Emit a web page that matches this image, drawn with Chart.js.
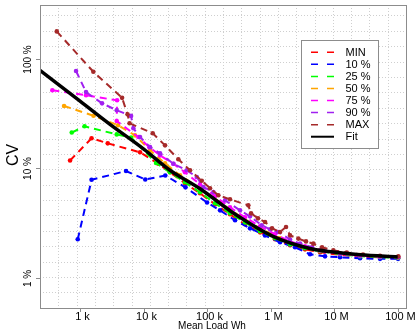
<!DOCTYPE html>
<html>
<head>
<meta charset="utf-8">
<style>
  html, body { margin: 0; padding: 0; background: #fff; }
  #wrap { width: 416px; height: 332px; }
</style>
<script src="https://cdn.jsdelivr.net/npm/chart.js@4.4.0/dist/chart.umd.min.js"></script>
</head>
<body>
<div id="wrap"><canvas id="cvChart" width="416" height="332"></canvas></div>
<script>
// CV vs carga media, ejes log-log

const minLoad = [696, 1518, 2730, 8810, 17100, 26100, 45000, 77600, 133700, 230000, 396000, 684000, 1.178e6, 2.03e6, 3.49e6, 6.02e6, 1.242e7, 2.57e7, 5.3e7, 1.02e8];
const minCv   = [11.8, 18.8, 16.9, 14.0, 11.0, 9.19, 7.30, 5.91, 4.69, 3.80, 3.08, 2.60, 2.25, 1.98, 1.82, 1.71, 1.62, 1.56, 1.52, 1.51];

const p10Load = [920, 1518, 5300, 10640, 22000, 45800, 100000, 160200, 276000, 475000, 819000, 1.412e6, 2.43e6, 4.19e6, 7.21e6, 1.242e7, 2.57e7, 5.3e7, 1.02e8];
const p10Cv   = [2.25, 7.85, 9.45, 7.90, 8.60, 6.70, 4.87, 4.13, 3.35, 2.83, 2.44, 2.11, 1.90, 1.64, 1.57, 1.54, 1.51, 1.49, 1.49];

const p25Load = [740, 1178, 3780, 6360, 15740, 26100, 45000, 77600, 133700, 230000, 396000, 684000, 1.178e6, 2.03e6, 3.49e6, 6.02e6, 1.242e7, 2.57e7, 5.3e7, 1.02e8];
const p25Cv   = [21.2, 24.2, 20.4, 19.1, 11.2, 9.19, 7.45, 6.04, 4.79, 3.88, 3.21, 2.66, 2.30, 2.02, 1.86, 1.75, 1.64, 1.57, 1.54, 1.52];

const p50Load = [560, 1632, 3970, 7350, 12660, 21800, 37600, 77600, 160200, 331000, 684000, 1.412e6, 2.92e6, 6.02e6, 1.242e7, 2.57e7, 5.3e7, 1.02e8];
const p50Cv   = [37.1, 30.2, 24.7, 20.0, 14.6, 11.1, 8.63, 6.57, 4.89, 3.64, 2.83, 2.30, 1.98, 1.78, 1.67, 1.61, 1.56, 1.54];

const p75Load = [366, 1243, 3830, 3780, 8280, 12340, 18200, 29500, 45000, 77600, 133700, 230000, 396000, 684000, 1.178e6, 2.03e6, 3.49e6, 6.02e6, 1.242e7, 2.57e7, 5.3e7, 1.02e8];
const p75Cv   = [51.6, 46.4, 41.8, 27.0, 19.3, 15.6, 13.1, 11.0, 9.19, 7.14, 5.55, 4.40, 3.57, 2.95, 2.50, 2.15, 1.94, 1.78, 1.66, 1.59, 1.56, 1.54];

const p90Load = [865, 1243, 2220, 3780, 6360, 6910, 8810, 12660, 18200, 29500, 47900, 68900, 87500, 125700, 192000, 331000, 475000, 727000, 982000, 1.312e6, 2.03e6, 2.92e6, 4.51e6, 7.21e6, 1.242e7, 2.57e7, 5.3e7, 1.02e8];
const p90Cv   = [77.4, 49.7, 39.2, 33.9, 30.1, 23.2, 19.3, 15.6, 13.7, 11.0, 9.59, 8.33, 6.75, 6.08, 5.10, 4.13, 3.64, 3.02, 2.77, 2.62, 2.24, 2.05, 1.90, 1.75, 1.66, 1.59, 1.56, 1.54];

const maxLoad = [430, 1620, 4590, 5600, 6020, 13960, 21800, 35300, 54000, 82600, 111500, 150600, 230000, 447000, 493000, 635000, 819000, 1.056e6, 1.412e6, 1.754e6, 2.03e6, 2.74e6, 3.62e6, 4.72e6, 6.47e6, 9.75e6, 1.585e7, 2.86e7, 5.3e7, 1.03e8];
const maxCv   = [178, 76.1, 44.0, 31.1, 25.8, 20.9, 16.2, 12.1, 9.59, 7.69, 6.57, 5.67, 5.21, 4.59, 3.88, 3.49, 3.23, 2.83, 2.62, 2.91, 2.44, 2.28, 2.15, 2.05, 1.90, 1.78, 1.70, 1.63, 1.59, 1.57];

const fitLoad = [234, 1000, 2965, 10190, 26100, 77600, 294000, 1.094e6, 4.19e6, 9.64e6, 2.57e7, 1.006e8];
const fitCv   = [78.5, 41.1, 25.2, 14.9, 9.59, 6.50, 3.72, 2.39, 1.85, 1.72, 1.62, 1.55];

const seriesNames  = ['MIN', '10 %', '25 %', '50 %', '75 %', '90 %', 'MAX', 'Fit'];
const seriesColors = ['#FF0000', '#0000FF', '#00FF00', '#FFA500', '#FF00FF', '#A020F0', '#A52A2A', '#000000'];

const xTickVals   = [1e3, 1e4, 1e5, 1e6, 1e7, 1e8];
const xTickLabels = ['1 k', '10 k', '100 k', '1 M', '10 M', '100 M'];
const yTickVals   = [1, 10, 100];
const yTickLabels = ['1 %', '10 %', '100 %'];

const FONT = '"Liberation Sans", Arial, Helvetica, sans-serif';

function toPoints(xs, ys) {
    return xs.map((x, i) => ({ x: x, y: ys[i] }));
}

const loads = [minLoad, p10Load, p25Load, p50Load, p75Load, p90Load, maxLoad];
const cvs   = [minCv, p10Cv, p25Cv, p50Cv, p75Cv, p90Cv, maxCv];

const datasets = loads.map((xs, i) => ({
    label: seriesNames[i],
    data: toPoints(xs, cvs[i]),
    borderColor: seriesColors[i],
    backgroundColor: seriesColors[i],
    borderWidth: 2,
    borderDash: [7, 5],
    pointRadius: 2.3,
    pointBorderWidth: 0,
    pointBackgroundColor: seriesColors[i],
    tension: 0,
    order: 7 - i
}));

datasets.push({
    label: 'Fit',
    data: toPoints(fitLoad, fitCv),
    borderColor: '#000',
    borderWidth: 3.5,
    pointRadius: 0,
    cubicInterpolationMode: 'monotone',
    order: 0
});

// Marco, rejilla, ejes y leyenda al estilo R
const rFrame = {
    id: 'rFrame',
    beforeDatasetsDraw(chart) {
        const { ctx, chartArea: a, scales: { x, y } } = chart;
        ctx.save();
        ctx.strokeStyle = '#cfcfcf';
        ctx.lineWidth = 1;
        ctx.setLineDash([1, 2]);
        // rejilla equiespaciada en escala log
        const lx0 = Math.log10(x.min), lx1 = Math.log10(x.max);
        for (let k = 1; k < 20; k++) {
            const px = Math.round(x.getPixelForValue(Math.pow(10, lx0 + k * (lx1 - lx0) / 20))) + 0.5;
            ctx.beginPath(); ctx.moveTo(px, a.top); ctx.lineTo(px, a.bottom); ctx.stroke();
        }
        for (let k = 0; k < 19; k++) {
            const py = Math.round(y.getPixelForValue(Math.pow(10, 2.397 - k * 0.1406))) + 0.5;
            ctx.beginPath(); ctx.moveTo(a.left, py); ctx.lineTo(a.right, py); ctx.stroke();
        }
        ctx.restore();
    },
    afterDraw(chart) {
        const { ctx, chartArea: a, scales: { x, y } } = chart;
        ctx.save();
        ctx.setLineDash([]);
        ctx.strokeStyle = '#8c8c8c';
        ctx.lineWidth = 1;
        ctx.strokeRect(Math.round(a.left) + 0.5, Math.round(a.top) + 0.5,
            Math.round(a.right - a.left), Math.round(a.bottom - a.top));

        // ticks eje x
        ctx.fillStyle = '#000';
        ctx.font = '11px ' + FONT;
        ctx.textAlign = 'center';
        ctx.textBaseline = 'alphabetic';
        xTickVals.forEach((v, i) => {
            const px = Math.round(x.getPixelForValue(v)) + 0.5;
            ctx.beginPath(); ctx.moveTo(px, a.bottom); ctx.lineTo(px, a.bottom + 4); ctx.stroke();
            ctx.fillText(xTickLabels[i], px + 2, 320);
        });

        // ticks eje y (texto girado)
        yTickVals.forEach((v, i) => {
            const py = Math.round(y.getPixelForValue(v)) + 0.5;
            ctx.beginPath(); ctx.moveTo(a.left, py); ctx.lineTo(a.left - 4, py); ctx.stroke();
            ctx.save();
            ctx.translate(31, py);
            ctx.rotate(-Math.PI / 2);
            ctx.font = '10px ' + FONT;
            ctx.fillText(yTickLabels[i], 0, 0);
            ctx.restore();
        });

        // titulos
        ctx.font = '10px ' + FONT;
        ctx.fillText('Mean Load Wh', 212, 329);
        ctx.save();
        ctx.translate(18, 155);
        ctx.rotate(-Math.PI / 2);
        ctx.font = '16px ' + FONT;
        ctx.fillText('CV', 0, 0);
        ctx.restore();

        // leyenda
        ctx.fillStyle = '#fff';
        ctx.fillRect(301.5, 40.5, 77, 108);
        ctx.strokeStyle = '#8c8c8c';
        ctx.strokeRect(301.5, 40.5, 77, 108);
        ctx.font = '11px ' + FONT;
        ctx.textAlign = 'left';
        ctx.textBaseline = 'middle';
        seriesNames.forEach((name, i) => {
            const ry = 52.3 + i * 12.06;
            ctx.strokeStyle = seriesColors[i];
            if (name === 'Fit') {
                ctx.lineWidth = 2;
                ctx.setLineDash([]);
            } else {
                ctx.lineWidth = 1.5;
                ctx.setLineDash([7, 9]);
            }
            ctx.beginPath(); ctx.moveTo(311, ry); ctx.lineTo(334, ry); ctx.stroke();
            ctx.fillStyle = '#000';
            ctx.fillText(name, 345.5, ry + 0.5);
        });
        ctx.restore();
    }
};

const chart = new Chart(document.getElementById('cvChart').getContext('2d'), {
    type: 'line',
    data: { datasets: datasets },
    options: {
        responsive: false,
        animation: false,
        devicePixelRatio: 1,
        layout: { padding: { top: 5, right: 10, left: 0, bottom: 0 } },
        plugins: { legend: { display: false }, tooltip: { enabled: false } },
        scales: {
            x: {
                type: 'logarithmic',
                min: 234,
                max: 1.36e8,
                grid: { display: false },
                border: { display: false },
                ticks: { display: false },
                afterFit: s => { s.height = 24; }
            },
            y: {
                type: 'logarithmic',
                min: 0.53,
                max: 310,
                grid: { display: false },
                border: { display: false },
                ticks: { display: false },
                afterFit: s => { s.width = 40; }
            }
        }
    },
    plugins: [rFrame]
});
</script>
</body>
</html>
